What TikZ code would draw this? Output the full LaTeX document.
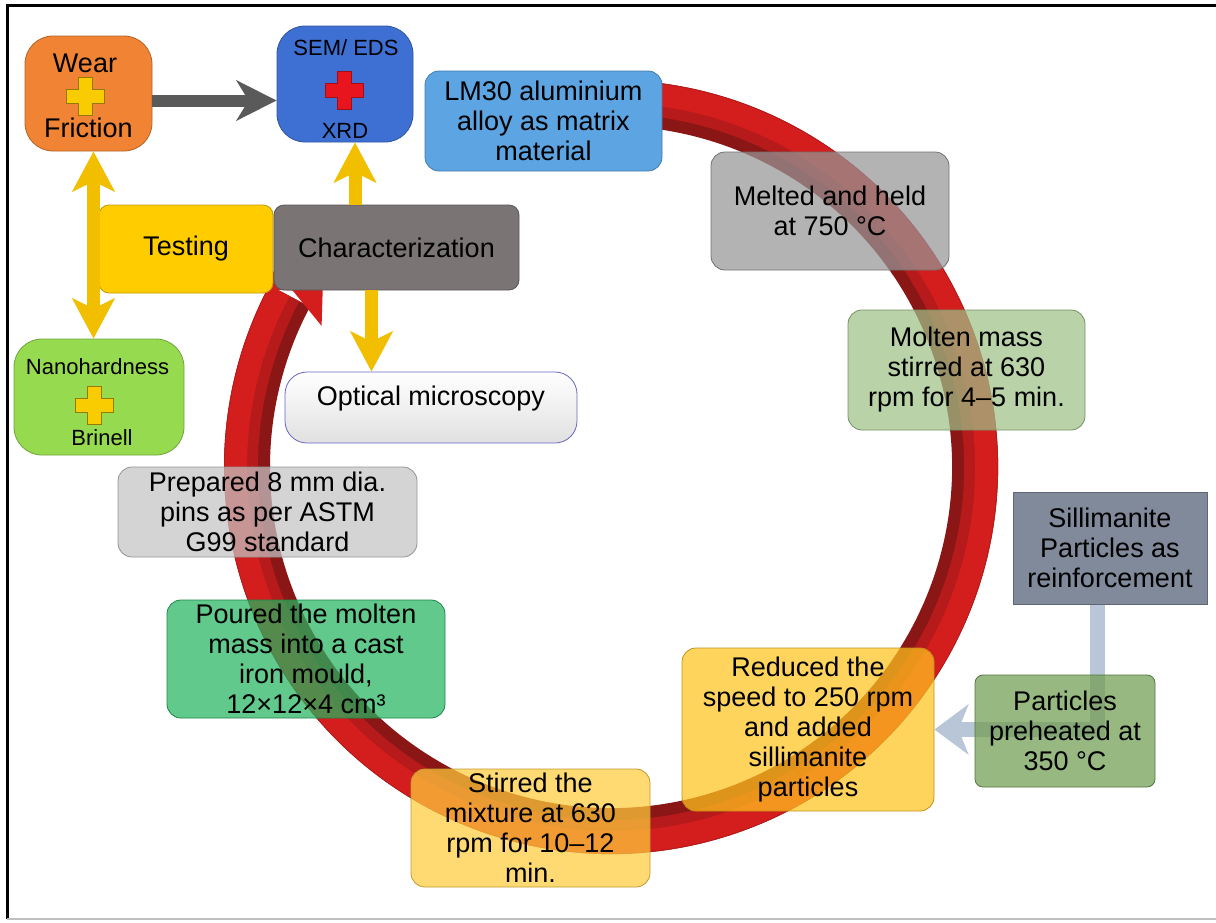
\documentclass[tikz,border=0pt]{standalone}
\usepackage{fontspec}
\setmainfont{Liberation Sans}
\usetikzlibrary{calc, arrows.meta, positioning}

\pgfdeclarelayer{background}
\pgfsetlayers{background,main}

\definecolor{wearorange}{RGB}{240,132,52}
\definecolor{semblue}{RGB}{62,112,212}
\definecolor{lmblue}{RGB}{92,164,226}
\definecolor{meltgray}{RGB}{150,150,150}
\definecolor{moltengreen}{RGB}{158,192,134}
\definecolor{silgray}{RGB}{128,138,154}
\definecolor{partgreen}{RGB}{112,156,80}
\definecolor{redyellow}{RGB}{255,196,30}
\definecolor{stiryellow}{RGB}{255,204,60}
\definecolor{pourgreen}{RGB}{36,180,96}
\definecolor{prepgray}{RGB}{196,196,196}
\definecolor{nanogreen}{RGB}{150,218,80}
\definecolor{testyellow}{RGB}{255,204,0}
\definecolor{chargray}{RGB}{122,116,116}
\definecolor{ringred}{RGB}{212,30,30}
\definecolor{ringmid}{RGB}{182,26,26}
\definecolor{ringdark}{RGB}{138,22,22}
\definecolor{goldarrow}{RGB}{242,190,0}
\definecolor{linkblue}{RGB}{184,198,216}
\definecolor{arrowgray}{RGB}{90,90,90}
\definecolor{crossyellow}{RGB}{248,204,0}
\definecolor{crossred}{RGB}{232,20,30}

\tikzset{
  box/.style={draw=#1!75!black, fill=#1, line width=0.8pt, rounded corners=14pt,
    align=center, inner sep=0pt, font=\fontsize{27}{30}\selectfont},
  glass/.style={fill opacity=0.72, text opacity=1},
  bigtext/.style={font=\fontsize{27}{30}\selectfont, inner sep=0pt},
  smalltext/.style={font=\fontsize{22}{25}\selectfont, inner sep=0pt},
  goldline/.style={line width=13pt, draw=goldarrow},
  goldtip/.tip={Stealth[length=40pt, width=42pt, inset=10pt]},
  crossmark/.pic={
    \path[pic actions] (-7,-19) -- (7,-19) -- (7,-7) -- (19,-7) -- (19,7) -- (7,7)
      -- (7,19) -- (-7,19) -- (-7,7) -- (-19,7) -- (-19,-7) -- (-7,-7) -- cycle;
  }
}

\begin{document}
\begin{tikzpicture}[x=1pt, y=-1pt]
    \useasboundingbox (0,0) rectangle (1216,922);

    % =================================================================
    % 1. FRAME
    % =================================================================
    \draw[line width=3pt] (7,919) -- (7,5) -- (1216,5);
    \draw[line width=2pt, black!25] (7,919) -- (1216,919);

    % =================================================================
    % 2. RED PROCESS RING WITH ARROW HEAD
    % =================================================================
    \coordinate (ringc) at (611,467);
    \draw[line width=46pt, ringdark] (ringc) ++(110:364pt) arc[start angle=110, end angle=-208, radius=364pt];
    \draw[line width=34pt, ringmid] (ringc) ++(110:370pt) arc[start angle=110, end angle=-208, radius=370pt];
    \draw[line width=22pt, ringred] (ringc) ++(110:375pt) arc[start angle=110, end angle=-208, radius=375pt];
    \fill[ringred] ($(ringc)+(-218:364pt)$) -- ($(ringc)+(-206:408pt)$)
        -- ($(ringc)+(-209:364pt)$) -- ($(ringc)+(-206:322pt)$) -- cycle;

    % =================================================================
    % 3. PROCESS STEPS
    % =================================================================
    \node[box=lmblue, minimum width=237pt, minimum height=100pt] (lm) at (543.5,121)
        {LM30 aluminium\\alloy as matrix\\material};
    \node[box=meltgray, glass, minimum width=238pt, minimum height=118pt] (melt) at (830,211)
        {Melted and held\\at 750 °C};
    \node[box=moltengreen, glass, minimum width=237pt, minimum height=120pt] (molten) at (966.5,370)
        {Molten mass\\stirred at 630\\rpm for 4–5 min.};
    \node[box=redyellow, glass, minimum width=252pt, minimum height=163pt] (reduced) at (808,729.5)
        {Reduced the\\speed to 250 rpm\\and added\\sillimanite\\particles};
    \node[box=stiryellow, glass, minimum width=239pt, minimum height=118pt] (stirred) at (530.5,828)
        {Stirred the\\mixture at 630\\rpm for 10–12\\min.};
    \node[box=pourgreen, glass, minimum width=278pt, minimum height=118pt] (poured) at (306,659)
        {Poured the molten\\mass into a cast\\iron mould,\\12×12×4 cm³};
    \node[box=prepgray, glass, minimum width=299pt, minimum height=90pt] (prepared) at (267.5,512)
        {Prepared 8 mm dia.\\pins as per ASTM\\G99 standard};

    % --- reinforcement branch ---
    \node[box=silgray, rounded corners=0pt, minimum width=194pt, minimum height=112pt] (sil) at (1110,548)
        {Sillimanite\\Particles as\\reinforcement};
    \node[box=partgreen, glass, rounded corners=8pt, minimum width=180pt, minimum height=112pt] (part) at (1065,731)
        {Particles\\preheated at\\350 °C};

    % =================================================================
    % 4. TESTING AND CHARACTERIZATION
    % =================================================================
    \node[box=testyellow, rounded corners=10pt, minimum width=174pt, minimum height=88pt] (testing) at (186,249) {Testing};
    \node[box=chargray, rounded corners=10pt, minimum width=245pt, minimum height=85pt] (charac) at (396.5,247.5) {Characterization};

    \node[box=wearorange, rounded corners=28pt, minimum width=127pt, minimum height=115pt] (wear) at (88.5,93.5) {};
    \node[box=semblue, rounded corners=28pt, minimum width=136pt, minimum height=116pt] (sem) at (345,84) {};
    \node[box=nanogreen, rounded corners=28pt, minimum width=170pt, minimum height=116pt] (nano) at (99,397) {};
    \node[box=white, draw=black!40!blue!60, shade, top color=white, bottom color=black!12, rounded corners=22pt,
        text height=19pt, text depth=24pt, minimum width=292pt, minimum height=71pt] (optical) at (431,407.5)
        {Optical microscopy};

    % texts and crosses inside the three test boxes
    \node[bigtext] (weartop) at (85,63) {Wear};
    \node[bigtext] (wearbot) at (88.5,128) {Friction};
    \node[smalltext] (semtop) at (346,48) {SEM/ EDS};
    \node[smalltext] (sembot) at (345,131) {XRD};
    \node[smalltext] (nanotop) at (97.5,367) {Nanohardness};
    \node[smalltext] (nanobot) at (102,438) {Brinell};

    \pic[fill=crossyellow, draw=crossyellow!60!black, line width=0.8pt] at (85,96) {crossmark};
    \pic[fill=crossred, draw=crossred!70!black, line width=0.8pt] at (344,90) {crossmark};
    \pic[fill=crossyellow, draw=crossyellow!60!black, line width=0.8pt] at (94,405) {crossmark};

    % =================================================================
    % 5. ARROWS
    % =================================================================
    \draw[line width=12pt, arrowgray, -{Stealth[length=40pt, width=40pt, inset=12pt]}]
        ([yshift=-7pt]wear.east) -- ([yshift=-7pt]wear.east -| sem.west);
    \draw[goldline, {goldtip}-{goldtip}] ([xshift=5pt]wear.south) -- ([xshift=5pt]wear.south |- nano.north);
    \draw[goldline, -{goldtip}] ([xshift=10pt]sem.south |- charac.north) -- ([xshift=10pt]sem.south);
    \draw[goldline, -{goldtip}] ([xshift=-25pt]charac.south) -- ([xshift=-25pt]charac.south |- optical.north);

    \begin{pgfonlayer}{background}
        \draw[line width=15pt, linkblue, -{Stealth[length=34pt, width=50pt, inset=10pt]}]
            ([xshift=-13pt]sil.south) |- (reduced.east);
    \end{pgfonlayer}

\end{tikzpicture}
\end{document}
